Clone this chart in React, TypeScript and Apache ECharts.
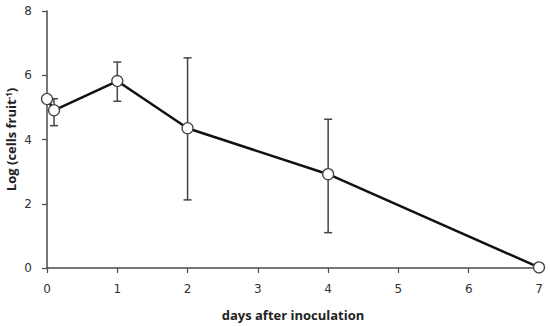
import React, { useEffect, useRef } from "react";
import * as echarts from "echarts";

const days = [0, 0.1, 1, 2, 4, 7];
const logCells = [5.26, 4.91, 5.82, 4.35, 2.92, 0.02];
const errLow = [null, 4.43, 5.19, 2.12, 1.1, null];
const errHigh = [null, 5.27, 6.41, 6.54, 4.63, null];
const xTicks = [0, 1, 2, 3, 4, 5, 6, 7];
const yTicks = [0, 2, 4, 6, 8];

export default function App() {
  const ref = useRef<HTMLDivElement>(null);
  useEffect(() => {
    const chart = echarts.init(ref.current!, null, { renderer: "svg" });
    const errData = days
      .map((d, i) => [d, errLow[i], errHigh[i]])
      .filter((r) => r[1] != null);
    const axisColor = "#4a4a4a";
    const labelStyle = { fontFamily: "Open Sans", fontWeight: "bold", fontSize: 13, color: "#222" };
    chart.setOption({
      animation: false,
      backgroundColor: "#fff",
      grid: { left: 47, right: 11, top: 11, bottom: 58, containLabel: false, outerBoundsMode: "none" },
      xAxis: {
        type: "value",
        min: xTicks[0],
        max: xTicks[xTicks.length - 1],
        interval: 1,
        name: "days after inoculation",
        nameLocation: "middle",
        nameGap: 40,
        nameMoveOverlap: false,
        nameTextStyle: labelStyle,
        axisLine: { lineStyle: { color: axisColor, width: 1.5 } },
        axisTick: { show: true, length: 5, lineStyle: { color: axisColor, width: 1.2 } },
        axisLabel: { fontFamily: "DejaVu Sans", fontSize: 12, color: "#333", margin: 15 },
        splitLine: { show: false },
      },
      yAxis: {
        type: "value",
        min: yTicks[0],
        max: yTicks[yTicks.length - 1],
        interval: 2,
        name: "Log (cells fruit{sup|-1})",
        nameLocation: "middle",
        nameGap: 30,
        nameMoveOverlap: false,
        nameRotate: 90,
        nameTextStyle: {
          ...labelStyle,
          rich: {
            sup: { fontFamily: "Open Sans", fontWeight: "bold", fontSize: 8, color: "#222", verticalAlign: "top", lineHeight: 10, padding: [0, 0, 7, 0] },
          },
        },
        axisLine: { show: true, lineStyle: { color: axisColor, width: 1.5 } },
        axisTick: { show: true, length: 5, lineStyle: { color: axisColor, width: 1.2 } },
        axisLabel: { fontFamily: "DejaVu Sans", fontSize: 12, color: "#333", margin: 15 },
        splitLine: { show: false },
      },
      series: [
        {
          type: "custom",
          z: 1,
          data: errData,
          renderItem: (params: any, api: any) => {
            const x = api.value(0);
            const lo = api.coord([x, api.value(1)]);
            const hi = api.coord([x, api.value(2)]);
            const cap = 4;
            const style = { stroke: "#444", lineWidth: 1.5 };
            return {
              type: "group",
              children: [
                { type: "line", shape: { x1: lo[0], y1: lo[1], x2: hi[0], y2: hi[1] }, style },
                { type: "line", shape: { x1: lo[0] - cap, y1: lo[1], x2: lo[0] + cap, y2: lo[1] }, style },
                { type: "line", shape: { x1: hi[0] - cap, y1: hi[1], x2: hi[0] + cap, y2: hi[1] }, style },
              ],
            };
          },
        },
        {
          type: "line",
          z: 3,
          data: days.map((d, i) => [d, logCells[i]]),
          lineStyle: { color: "#111", width: 2.5 },
          symbol: "circle",
          symbolSize: 11,
          itemStyle: { color: "#fff", borderColor: "#444", borderWidth: 1.3 },
          clip: false,
        },
      ],
    });
    return () => chart.dispose();
  }, []);
  return <div ref={ref} style={{ width: 550, height: 326, position: "absolute", left: 0, top: 0 }} />;
}
